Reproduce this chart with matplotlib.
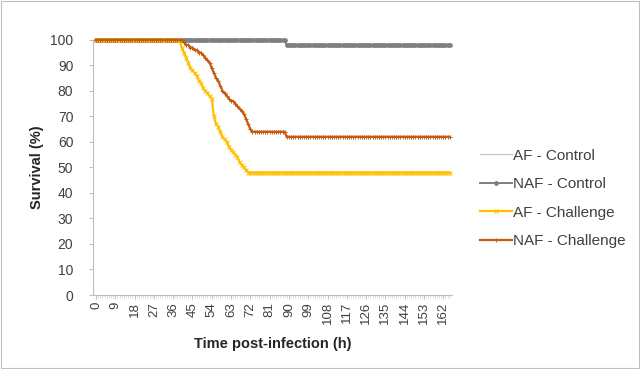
import matplotlib
matplotlib.use("Agg")
import matplotlib.pyplot as plt
from matplotlib.patches import Rectangle

# Survival (%) recorded hourly from 0 to 165 h post-infection
hours = list(range(0, 166))

af_control = [100] * 89 + [98] * 77
naf_control = [100] * 89 + [98] * 77
af_challenge = ([100] * 40 +
                [97, 95, 93, 91, 89, 88, 87, 86, 84, 83, 81, 80, 79, 78, 77,
                 70, 67, 66, 64, 62, 61, 60, 58, 57, 56, 55, 54, 52, 51, 50, 49] +
                [48] * 95)
naf_challenge = ([100] * 41 +
                 [99, 98, 98, 97, 97, 96, 96, 95, 95, 94, 93, 92, 91, 89, 87, 85,
                  84, 82, 80, 79, 78, 77, 76, 76, 75, 74, 73, 72, 71, 69, 67, 65] +
                 [64] * 16 + [62] * 77)

series_names = ["AF - Control", "NAF - Control", "AF - Challenge", "NAF - Challenge"]
x_tick_labels = list(range(0, 163, 9))
y_ticks = list(range(0, 101, 10))

plt.rcParams["font.family"] = ["Liberation Sans", "DejaVu Sans"]

fig = plt.figure(figsize=(6.4, 3.69), dpi=100)
ax = fig.add_axes([0.145, 0.2005, 0.561, 0.6915])

ax.plot(hours, af_control, color="#c8c8c8", lw=1.0, label=series_names[0],
        clip_on=False, zorder=2)
ax.plot(hours, naf_control, color="#7f7f7f", lw=1.4, marker="o", ms=2.4,
        label=series_names[1], clip_on=False, zorder=3)
ax.plot(hours, af_challenge, color="#ffc000", lw=1.6, marker="x", ms=2.6, mew=0.7,
        label=series_names[2], clip_on=False, zorder=4)
ax.plot(hours, naf_challenge, color="#c55a11", lw=1.6, marker="+", ms=3, mew=0.7,
        label=series_names[3], clip_on=False, zorder=5)

ax.set_xlim(-1.5, 166)
ax.set_ylim(0, 100)
ax.set_yticks(y_ticks)
ax.set_xticks(x_tick_labels)
ax.set_xticklabels([str(v) for v in x_tick_labels], rotation=90)
ax.set_xticks(hours, minor=True)

for side in ("top", "right"):
    ax.spines[side].set_visible(False)
for side in ("left", "bottom"):
    ax.spines[side].set_color("#bfbfbf")
    ax.spines[side].set_linewidth(0.8)

ax.tick_params(axis="both", which="major", colors="#bfbfbf", labelcolor="#404040",
               labelsize=10, length=3, width=0.7, direction="out")
ax.tick_params(axis="y", which="major", pad=11)
ax.tick_params(axis="x", which="minor", colors="#d0d0d0", length=2, width=0.5)
ax.tick_params(axis="x", which="major", labelsize=9.5, pad=2)

ax.set_xlabel("Time post-infection (h)", fontsize=10.5, fontweight="bold",
              color="#262626", labelpad=9)
ax.set_ylabel("Survival (%)", fontsize=10.5, fontweight="bold",
              color="#262626")
ax.yaxis.set_label_coords(-0.135, 0.5)

leg = ax.legend(loc="center left", bbox_to_anchor=(1.04, 0.378), frameon=False,
                fontsize=11, handlelength=2.1, handletextpad=0.05,
                labelspacing=0.95, labelcolor="#404040")

fig.add_artist(Rectangle((0.002, 0.003), 0.996, 0.994, transform=fig.transFigure,
                         fill=False, edgecolor="#bfbfbf", lw=0.8))

fig.savefig("out.png", dpi=100)
